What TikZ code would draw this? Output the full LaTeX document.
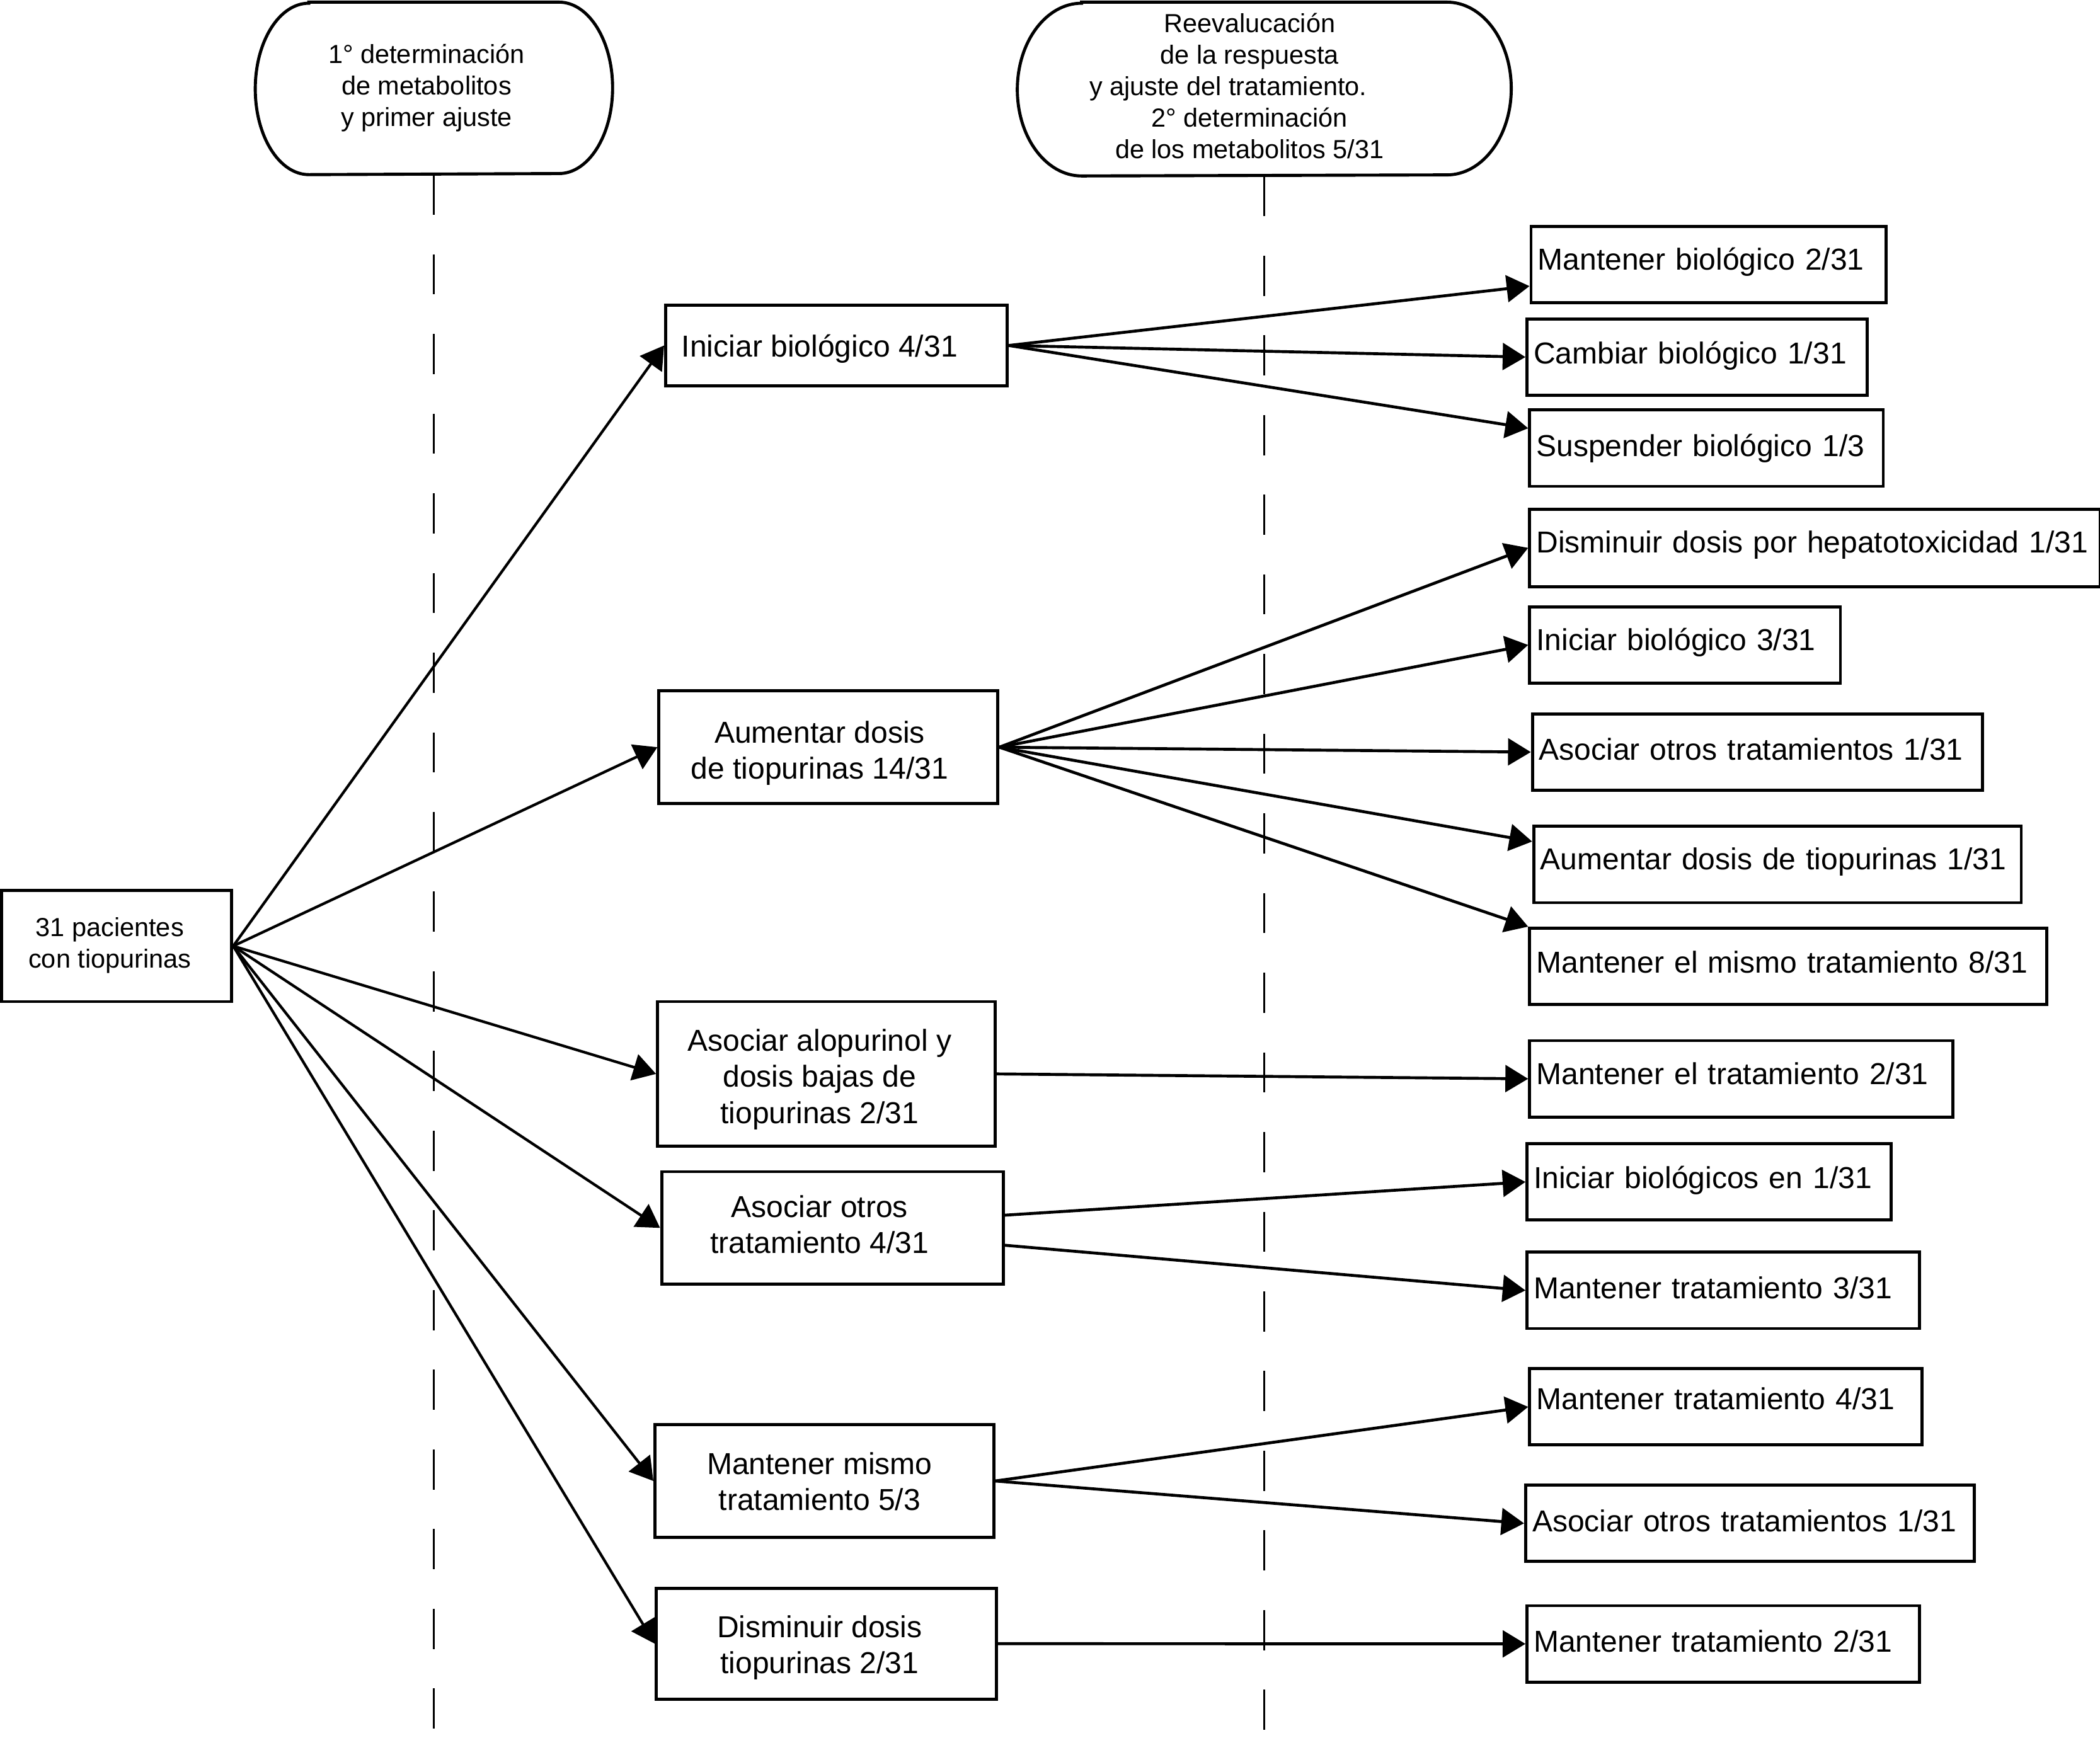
\documentclass[tikz,border=0pt]{standalone}
\usepackage{fontspec}
\setmainfont{Liberation Sans}
\usetikzlibrary{arrows.meta,calc}
\newcommand{\bxt}[3][0pt]{\raisebox{#1}[\height][\depth]{\begin{tabular}{@{}c@{}}#2\end{tabular}}\kern#3}
\newcommand{\rt}[2][1pt]{\raisebox{#1}[\height][\depth]{#2}}
\tikzset{
  boxstyle/.style={draw, line width=1.15pt, fill=white, inner sep=0pt, font=\fontsize{11.3}{13.5}\selectfont},
  rbox/.style={draw, line width=1.15pt, fill=white, anchor=north west, inner xsep=2.5pt, inner ysep=0pt, minimum height=28.5pt, align=left, font=\fontsize{11.3}{13.5}\selectfont, text width=#1},
  hdrtext/.style={inner sep=0pt, font=\fontsize{9.75}{11.75}\selectfont},
  hdrshape/.style={line width=1.15pt},
  guide/.style={line width=0.6pt, dash pattern=on 15pt off 14.75pt},
  conn/.style={line width=1pt, -{Triangle[length=8.5pt,width=10pt]}},
}
\begin{document}
\begin{tikzpicture}[x=0.5pt,y=-0.5pt]
\useasboundingbox (0,0) rectangle (1568,1297.5);
\coordinate (bottom) at (0,1297.5);

% headers
\node[hdrtext, minimum width=133pt, minimum height=64pt] (h1) at (324,66) {\bxt{1° determinación\\de metabolitos\\y primer ajuste}{5.5pt}};
\draw[hdrshape] ([xshift=20pt]h1.north west) -- ([xshift=-20pt]h1.north east)
  arc[start angle=90,end angle=-90,x radius=20pt,y radius=32pt]
  -- ([xshift=20pt]h1.south west)
  arc[start angle=270,end angle=90,x radius=20pt,y radius=32pt] -- cycle;

\node[hdrtext, minimum width=184pt, minimum height=64.5pt] (h2) at (944,66.5) {\bxt{Reevalucación\\de la respuesta\\y ajuste del tratamiento.\hspace*{16pt}\\2° determinación\\de los metabolitos 5/31}{11pt}};
\draw[hdrshape] ([xshift=24pt]h2.north west) -- ([xshift=-24pt]h2.north east)
  arc[start angle=90,end angle=-90,x radius=24pt,y radius=32.25pt]
  -- ([xshift=24pt]h2.south west)
  arc[start angle=270,end angle=90,x radius=24pt,y radius=32.25pt] -- cycle;

\draw[guide] (h1.south) -- (h1.south |- bottom);
\draw[guide] (h2.south) -- (h2.south |- bottom);

% source
\node[boxstyle, minimum width=86pt, minimum height=41.5pt, font=\fontsize{9.75}{11.75}\selectfont] (src) at (87,706.5) {\bxt{31 pacientes\\con tiopurinas}{5pt}};

% middle column
\node[boxstyle, minimum width=127.5pt, minimum height=30pt] (m1) at (624.5,258) {\bxt[-1.5pt]{Iniciar biológico 4/31}{12.5pt}};
\node[boxstyle, minimum width=126.5pt, minimum height=42pt] (m2) at (618.5,558) {\bxt[-2.5pt]{Aumentar dosis\\de tiopurinas 14/31}{6.5pt}};
\node[boxstyle, minimum width=126pt, minimum height=54pt] (m3) at (617,802) {\bxt[-2.25pt]{Asociar alopurinol y\\dosis bajas de\\tiopurinas 2/31}{5pt}};
\node[boxstyle, minimum width=127.5pt, minimum height=42pt] (m4) at (621.5,917) {\bxt{Asociar otros\\tratamiento 4/31}{9.5pt}};
\node[boxstyle, minimum width=126.5pt, minimum height=42pt] (m5) at (615.5,1106) {\bxt[-1.5pt]{Mantener mismo\\tratamiento 5/3}{3.5pt}};
\node[boxstyle, minimum width=127pt, minimum height=41.5pt] (m6) at (617,1227.5) {\bxt[-1.75pt]{Disminuir dosis\\tiopurinas 2/31}{5pt}};

% right column
\node[rbox=127.5pt] (r1) at (1142,168) {\rt{Mantener biológico 2/31}};
\node[rbox=122pt] (r2) at (1139,237) {\rt[0.5pt]{Cambiar biológico 1/31}};
\node[rbox=127pt] (r3) at (1141,305) {\rt[0pt]{Suspender biológico 1/3}};
\node[rbox=208pt, minimum height=29pt] (r4) at (1141,379) {\rt{Disminuir dosis por hepatotoxicidad 1/31}};
\node[rbox=111pt] (r5) at (1141,452) {\rt{Iniciar biológico 3/31}};
\node[rbox=163pt] (r6) at (1143,532) {\rt{Asociar otros tratamientos 1/31}};
\node[rbox=177pt] (r7) at (1144,616) {\rt{Aumentar dosis de tiopurinas 1/31}};
\node[rbox=188pt] (r8) at (1141,692) {\rt[1.5pt]{Mantener el mismo tratamiento 8/31}};
\node[rbox=153pt] (r9) at (1141,776) {\rt[2pt]{Mantener el tratamiento 2/31}};
\node[rbox=131pt] (r10) at (1139,853) {\rt[0.5pt]{Iniciar biológicos en 1/31}};
\node[rbox=141.5pt] (r11) at (1139,934) {\rt{Mantener tratamiento 3/31}};
\node[rbox=141.5pt] (r12) at (1141,1021) {\rt[3pt]{Mantener tratamiento 4/31}};
\node[rbox=162.5pt] (r13) at (1138,1108) {\rt{Asociar otros tratamientos 1/31}};
\node[rbox=141.5pt] (r14) at (1139,1198) {\rt{Mantener tratamiento 2/31}};

% connectors from source
\foreach \m in {m1,m2,m3,m4,m5,m6} \draw[conn] (src.east) -- (\m.west);

% connectors to right column
\draw[conn, line width=1.1pt] (m1.east) -- ($(r1.north west)!0.77!(r1.south west)$);
\draw[conn, line width=1.1pt] (m1.east) -- (r2.west);
\draw[conn, line width=1.1pt] (m1.east) -- ($(r3.north west)!0.25!(r3.south west)$);
\draw[conn, line width=1.1pt] (m2.east) -- (r4.west);
\draw[conn, line width=1.1pt] (m2.east) -- (r5.west);
\draw[conn, line width=1.1pt] (m2.east) -- (r6.west);
\draw[conn, line width=1.1pt] (m2.east) -- ($(r7.north west)!0.21!(r7.south west)$);
\draw[conn, line width=1.1pt] (m2.east) -- (r8.north west);
\draw[conn, line width=1.1pt] (m3.east) -- (r9.west);
\draw[conn, line width=1.1pt] ($(m4.north east)!0.39!(m4.south east)$) -- (r10.west);
\draw[conn, line width=1.1pt] ($(m4.north east)!0.65!(m4.south east)$) -- (r11.west);
\draw[conn, line width=1.1pt] (m5.east) -- (r12.west);
\draw[conn, line width=1.1pt] (m5.east) -- (r13.west);
\draw[conn, line width=1.1pt] (m6.east) -- (r14.west);
\end{tikzpicture}
\end{document}
